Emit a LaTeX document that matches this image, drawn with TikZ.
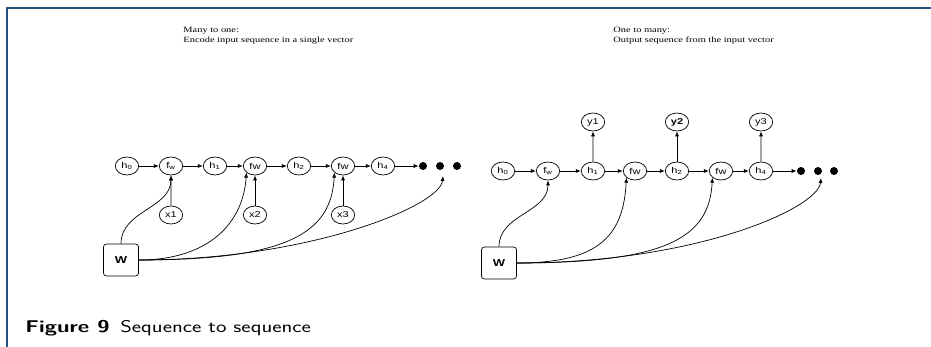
\documentclass[tikz,border=0pt]{standalone}
\usepackage{fontspec}
\usepackage{tikz}
\usetikzlibrary{arrows.meta}
\newfontfamily\nodefont{Liberation Sans}
\newfontfamily\titlefont{Liberation Serif}
\definecolor{framecol}{RGB}{38,82,130}

\begin{document}
\begin{tikzpicture}[x=1pt,y=-1pt,line width=0.7pt,>={Latex[length=5pt,width=4pt]},
    state/.style={draw,circle,xscale=1.3,minimum size=18pt,inner sep=0pt,font=\nodefont\fontsize{8.5}{10}\selectfont},
    wbox/.style={draw,rounded corners=3pt,xscale=1.3,minimum width=27pt,minimum height=32pt,font=\nodefont\bfseries\fontsize{10}{11}\selectfont},
    dot/.style={fill,circle,minimum size=8pt,inner sep=0pt},
    title/.style={font=\titlefont\fontsize{8}{10}\selectfont,xscale=1.3,align=left,anchor=north west,inner sep=0pt}]
    \useasboundingbox (0,0) rectangle (931,347);

    % Frame
    \draw[framecol,line width=2pt] (7,347) -- (7,8) -- (931,8);

    % Titles
    \node[title] (ttlL) at (183,27) {Many to one:\\Encode input sequence in a single vector};
    \node[title] (ttlR) at (613,27) {One to many:\\Output sequence from the input vector};

    % Many to one
    \node[state] (h0L) at (127,166) {h\textsubscript{0}};
    \node[state] (fw1L) at (171,166) {f\textsubscript{w}};
    \node[state] (h1L) at (215,166) {h\textsubscript{1}};
    \node[state] (fw2L) at (255,166) {fw};
    \node[state] (h2L) at (299,166) {h\textsubscript{2}};
    \node[state] (fw3L) at (343,166) {fw};
    \node[state] (h4L) at (383,166) {h\textsubscript{4}};
    \node[dot] (d1L) at (423,166) {};
    \node[dot] (d2L) at (440,166) {};
    \node[dot] (d3L) at (457,166) {};
    \node[state] (x1) at (171,215) {x1};
    \node[state] (x2) at (255,215) {x2};
    \node[state] (x3) at (343,215) {x3};
    \node[wbox] (wL) at (121,260) {W};
    \coordinate (endL) at (443,176);

    \draw[->] (h0L) -- (fw1L);
    \draw[->] (fw1L) -- (h1L);
    \draw[->] (h1L) -- (fw2L);
    \draw[->] (fw2L) -- (h2L);
    \draw[->] (h2L) -- (fw3L);
    \draw[->] (fw3L) -- (h4L);
    \draw[->] (h4L) -- (d1L);
    \draw[->] (x1) -- (fw1L);
    \draw[->] (x2) -- (fw2L);
    \draw[->] (x3) -- (fw3L);
    \draw[->] (wL.north) to[out=90,in=-90] (fw1L.south);
    \draw[->] (wL.east) .. controls +(70,0) and +(-3,50) .. (fw2L.south west);
    \draw[->] (wL.east) .. controls +(150,0) and +(-3,60) .. (fw3L.south west);
    \draw[->] (wL.east) .. controls +(170,0) and +(-3,30) .. (endL);

    % One to many
    \node[state] (h0R) at (503,171) {h\textsubscript{0}};
    \node[state] (fw1R) at (548,171) {f\textsubscript{w}};
    \node[state] (h1R) at (593,171) {h\textsubscript{1}};
    \node[state] (fw2R) at (635,171) {fw};
    \node[state] (h2R) at (677,171) {h\textsubscript{2}};
    \node[state] (fw3R) at (721,171) {fw};
    \node[state] (h4R) at (761,171) {h\textsubscript{4}};
    \node[dot] (d1R) at (801,171) {};
    \node[dot] (d2R) at (818,171) {};
    \node[dot] (d3R) at (834,171) {};
    \node[state] (y1) at (593,122) {y1};
    \node[state] (y2) at (677,122) {\bfseries y2};
    \node[state] (y3) at (761,122) {y3};
    \node[wbox] (wR) at (499,263) {W};
    \coordinate (endR) at (821,178);

    \draw[->] (h0R) -- (fw1R);
    \draw[->] (fw1R) -- (h1R);
    \draw[->] (h1R) -- (fw2R);
    \draw[->] (fw2R) -- (h2R);
    \draw[->] (h2R) -- (fw3R);
    \draw[->] (fw3R) -- (h4R);
    \draw[->] (h4R) -- (d1R);
    \draw[->] (h1R) -- (y1);
    \draw[->] (h2R) -- (y2);
    \draw[->] (h4R) -- (y3);
    \draw[->] (wR.north) to[out=90,in=-90] (fw1R.south);
    \draw[->] (wR.east) .. controls +(80,0) and +(-3,60) .. (fw2R.south west);
    \draw[->] (wR.east) .. controls +(150,0) and +(-3,60) .. (fw3R.south west);
    \draw[->] (wR.east) .. controls +(180,0) and +(-3,30) .. (endR);

    % Caption
    \node[anchor=base west,inner sep=0pt,xscale=1.31,font=\sffamily\fontsize{17}{19}\selectfont] (cap) at (25,332) {\textbf{Figure 9}\, Sequence to sequence};
\end{tikzpicture}
\end{document}
